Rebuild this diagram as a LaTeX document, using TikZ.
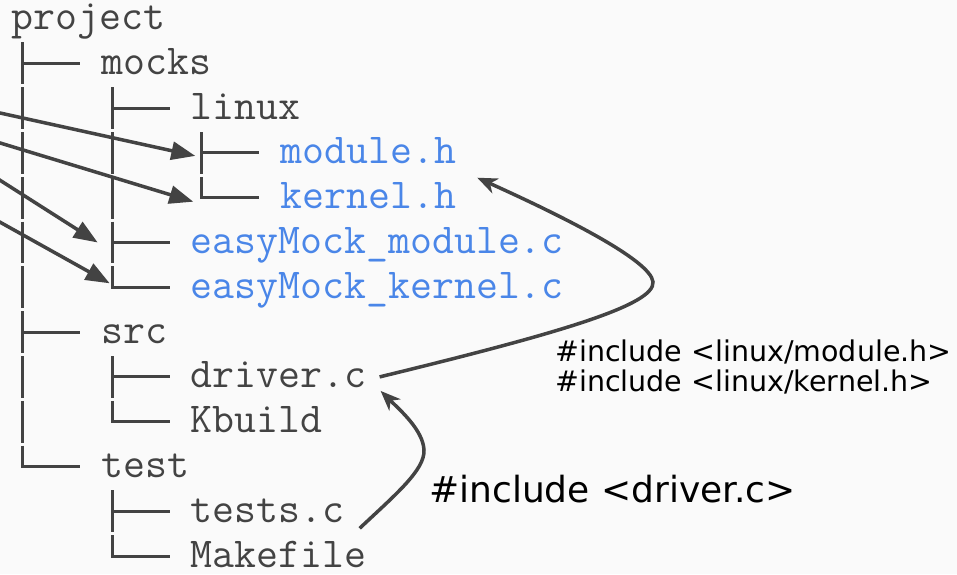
\documentclass[tikz,border=0pt]{standalone}
\usepackage{fontspec}
\usetikzlibrary{arrows.meta,positioning,calc}
\newfontfamily\notefont{DejaVu Sans}
\definecolor{ink}{HTML}{434343}
\definecolor{mockblue}{HTML}{4A86E8}
\definecolor{paper}{HTML}{FAFAFA}

% trunk under #1 down to its last child #2, one twig per child in #3
\newcommand\subtree[3]{%
  \coordinate (trunk) at ($(#1.west)+(11.2,0)$);
  \draw[stem] ($(trunk)+(0,22.4)$) -- (trunk |- #2.west);
  \foreach \c in {#3} \draw[twig] (trunk |- \c.west) -- ([xshift=-22.4pt]\c.west);
}

\begin{document}
\begin{tikzpicture}[x=1pt,y=-1pt,
  entry/.style={font={\ttfamily\fontsize{42.6}{44}\selectfont},anchor=west,inner sep=0pt,text height=23pt,text depth=1pt},
  stem/.style={ink,line width=3pt,dash pattern=on 41.8pt off 3pt,dash phase=43.3pt},
  twig/.style={ink,line width=3pt,line cap=rect},
  link/.style={ink,line width=3.5pt,-{Triangle[length=24pt,width=18pt]}},
  inc/.style={ink,line width=3.5pt,-{Stealth[length=20pt,width=16pt,inset=6pt]}},
  note/.style={inner sep=0pt,align=left,text=black}]
\path[fill=paper,use as bounding box] (0,0) rectangle (957,574);
\clip (0,0) rectangle (957,574);

\foreach \n/\c/\r/\k/\t in {project/0/0/ink/project, mocks/4/1/ink/mocks, linux/8/2/ink/linux,
    modh/12/3/mockblue/module.h, kernh/12/4/mockblue/kernel.h,
    mockmod/8/5/mockblue/easyMock\_module.c, mockkern/8/6/mockblue/easyMock\_kernel.c,
    src/4/7/ink/src, driver/8/8/ink/driver.c, kbuild/8/9/ink/Kbuild,
    test/4/10/ink/test, tests/8/11/ink/tests.c, makefile/8/12/ink/Makefile}
  \node[entry,text=\k] (\n) at ({11.5+22.4*\c},{18.5+44.8*\r}) {\t};

\subtree{project}{test}{mocks,src,test}
\subtree{mocks}{mockkern}{linux,mockmod,mockkern}
\subtree{linux}{kernh}{modh,kernh}
\subtree{src}{kbuild}{driver,kbuild}
\subtree{test}{makefile}{tests,makefile}

\coordinate (from1) at (-60,99.8);
\coordinate (from2) at (-60,124.7);
\coordinate (from3) at (-60,142);
\coordinate (from4) at (-60,188.7);
\draw[link] (from1) -- ($(modh.west)+(-85,3)$);
\draw[link] (from2) -- ($(kernh.west)+(-87,4)$);
\draw[link] (from3) -- ($(mockmod.west)+(-93,0)$);
\draw[link] (from4) -- ($(mockkern.west)+(-81,-4)$);

\node[note,anchor=west,font={\notefont\fontsize{28.5}{30}\selectfont}] (hinc) at (555,367)
  {\#include <linux/module.h>\\\#include <linux/kernel.h>};
\node[note,anchor=base west,font={\notefont\fontsize{36}{40}\selectfont}] (dinc) at (429,502.7)
  {\#include <driver.c>};

\coordinate (hdrs) at ($(kernh.east)+(21,-20)$);
\draw[inc] ([xshift=13pt]driver.east) .. controls (560,333) and (655,305) .. (653,282)
  .. controls (651,260) and (560,215) .. (hdrs);
\draw[inc] ($(tests.east)+(15,17)$) .. controls (395,495) and (425,470) .. (424,450)
  .. controls (423,430) and (400,410) .. ($(driver.east)+(14,14)$);
\end{tikzpicture}
\end{document}
